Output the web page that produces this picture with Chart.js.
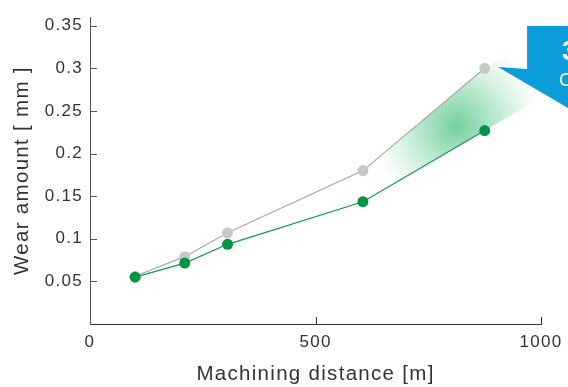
<!DOCTYPE html>
<html><head><meta charset="utf-8">
<script src="https://cdn.jsdelivr.net/npm/chart.js@4"></script>
<style>html,body{margin:0;padding:0;background:#fff}#wrap{width:568px;height:387px}</style>
</head><body><div id="wrap"><canvas id="c" width="568" height="387"></canvas></div>
<script>
const distances = [100, 210, 305, 605, 875];
const wearConventional = [0.056, 0.079, 0.107, 0.180, 0.300];
const wearNew = [0.055, 0.0715, 0.0935, 0.1435, 0.227];
const xTicks = [0, 500, 1000];
const yTicks = [0.05, 0.1, 0.15, 0.2, 0.25, 0.3, 0.35];
const xTitle = 'Machining distance [m]';
const yTitle = 'Wear amount [ mm ]';
const calloutBig = '3';
const calloutSmall = 'C';

const FONT = '"Liberation Sans", Arial, Helvetica, sans-serif';
const SPACING = '1.3px';

const decor = {
  id: 'decor',
  beforeInit(chart) { chart.ctx.letterSpacing = SPACING; },
  beforeDraw(chart) { chart.ctx.letterSpacing = SPACING; },
  beforeDatasetsDraw(chart) {
    const {ctx, scales: {x, y}} = chart;
    const n = distances.length;
    const gx4 = x.getPixelForValue(distances[n-2]), gy4 = y.getPixelForValue(wearConventional[n-2]);
    const gx5 = x.getPixelForValue(distances[n-1]), gy5 = y.getPixelForValue(wearConventional[n-1]);
    const nx4 = gx4, ny4 = y.getPixelForValue(wearNew[n-2]);
    const nx5 = gx5, ny5 = y.getPixelForValue(wearNew[n-1]);
    ctx.save();
    ctx.beginPath();
    ctx.moveTo(gx4, gy4);
    ctx.lineTo(gx5, gy5);
    ctx.lineTo(gx5 + (gx5-gx4)*0.24, gy5 - (gy4-gy5)*0.17);
    ctx.lineTo(nx5 + (nx5-nx4)*0.5, ny5 - (ny4-ny5)*0.5);
    ctx.lineTo(nx5, ny5);
    ctx.lineTo(nx4, ny4);
    ctx.closePath();
    const cx = gx5 - 28, cy = (gy5 + ny5)/2 + 26;
    const g = ctx.createRadialGradient(cx, cy, 0, cx, cy, 88);
    g.addColorStop(0, 'rgba(60,190,120,0.72)');
    g.addColorStop(0.45, 'rgba(90,200,140,0.42)');
    g.addColorStop(1, 'rgba(150,225,180,0)');
    ctx.fillStyle = g;
    ctx.fill();
    ctx.restore();
  },
  afterDraw(chart) {
    const {ctx, chartArea: a, scales: {x, y}} = chart;
    ctx.save();
    ctx.strokeStyle = '#555';
    ctx.lineWidth = 1;
    yTicks.forEach(v => {
      const py = Math.round(y.getPixelForValue(v)) + 0.5;
      ctx.beginPath(); ctx.moveTo(a.left, py); ctx.lineTo(a.left + 7, py); ctx.stroke();
    });
    ctx.strokeStyle = '#333';
    xTicks.slice(1).forEach(v => {
      const px = Math.round(x.getPixelForValue(v)) + 0.5;
      ctx.beginPath(); ctx.moveTo(px, a.bottom); ctx.lineTo(px, a.bottom - 7); ctx.stroke();
    });
    const L = a.right - 14, T = 26, W = chart.width;
    ctx.fillStyle = '#0a9dd9';
    ctx.beginPath();
    ctx.moveTo(L, T);
    ctx.lineTo(W, T);
    ctx.lineTo(W, T + 82);
    ctx.lineTo(L - 29, T + 41);
    ctx.lineTo(L, T + 43);
    ctx.closePath();
    ctx.fill();
    ctx.fillStyle = '#fff';
    ctx.textAlign = 'left';
    ctx.textBaseline = 'alphabetic';
    ctx.letterSpacing = '0px';
    ctx.font = 'bold 27px ' + FONT;
    ctx.fillText(calloutBig, L + 35, T + 34);
    ctx.font = '19px ' + FONT;
    ctx.fillText(calloutSmall, L + 32, T + 60);
    ctx.restore();
  }
};

new Chart(document.getElementById('c'), {
  type: 'line',
  data: {
    datasets: [
      {
        label: 'New',
        data: distances.map((d, i) => ({x: d, y: wearNew[i]})),
        borderColor: '#119a50', backgroundColor: '#009245',
        borderWidth: 1.2, pointRadius: 5.5, pointHoverRadius: 5.5,
        pointBorderWidth: 0, tension: 0
      },
      {
        label: 'Conventional',
        data: distances.map((d, i) => ({x: d, y: wearConventional[i]})),
        borderColor: '#a8a8a8', backgroundColor: '#c8c8ca',
        borderWidth: 1.2, pointRadius: 5.5, pointHoverRadius: 5.5,
        pointBorderWidth: 0, tension: 0
      }
    ]
  },
  options: {
    responsive: false, animation: false,
    layout: {padding: {top: 13, right: 26, left: 0, bottom: 0}},
    plugins: {legend: {display: false}, tooltip: {enabled: false}},
    scales: {
      x: {
        type: 'linear', min: 0, max: 1000,
        afterFit(s) { s.height = 63; },
        afterBuildTicks(s) { s.ticks = xTicks.map(v => ({value: v})); },
        grid: {display: true, drawOnChartArea: false, drawTicks: false},
        border: {display: true, color: '#333', width: 1},
        ticks: {padding: 8, color: '#333', font: {family: FONT, size: 17}, maxRotation: 0, callback: v => String(v)},
        title: {display: true, text: xTitle, color: '#333', font: {family: FONT, size: 20.5}, padding: {top: 4, bottom: 0}}
      },
      y: {
        type: 'linear', min: 0, max: 0.36,
        afterFit(s) { s.width = 90; },
        afterBuildTicks(s) { s.ticks = yTicks.map(v => ({value: v})); },
        grid: {display: true, drawOnChartArea: false, drawTicks: false},
        border: {display: true, color: '#555', width: 1},
        ticks: {padding: 7, color: '#333', font: {family: FONT, size: 17}, callback: v => String(v)},
        title: {display: true, text: yTitle, color: '#333', font: {family: FONT, size: 20.5}, padding: {top: 10, bottom: 0}}
      }
    }
  },
  plugins: [decor]
});
</script>
</body></html>
